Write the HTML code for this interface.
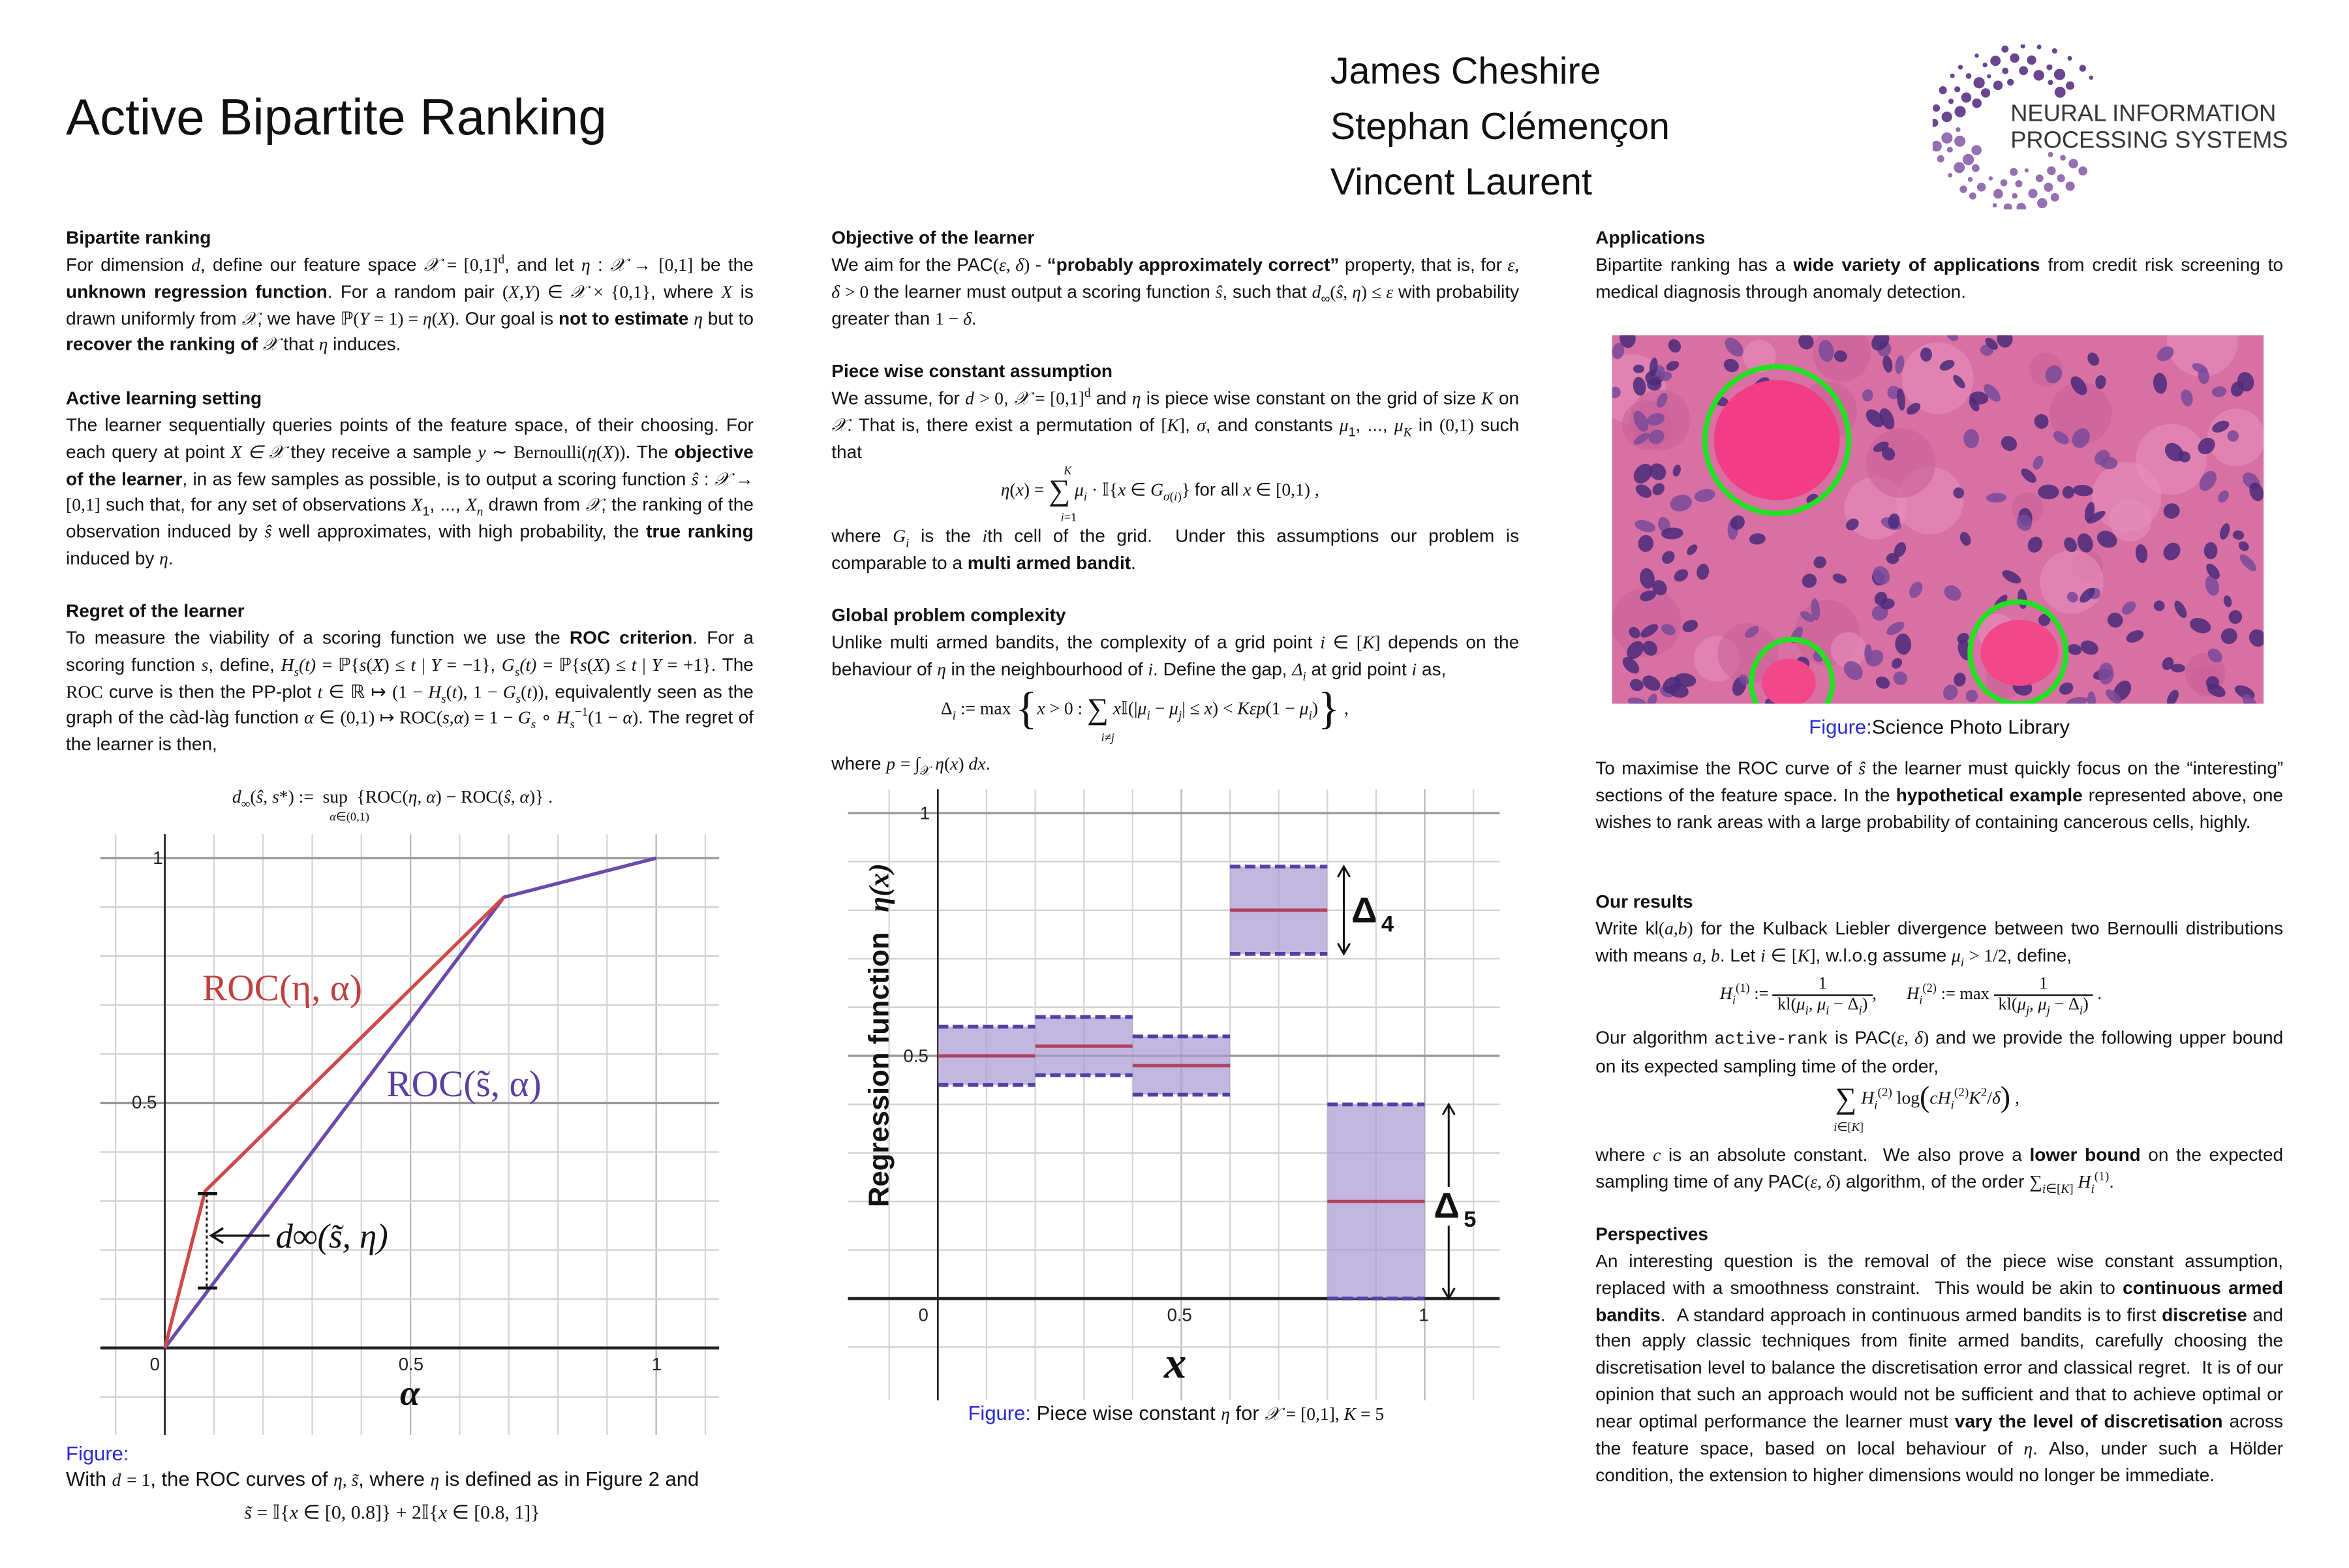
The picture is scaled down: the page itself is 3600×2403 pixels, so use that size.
<!DOCTYPE html>
<html><head><meta charset="utf-8">
<style>
html,body{margin:0;padding:0;background:#fff;}
body{width:3600px;height:2400px;overflow:hidden;position:relative;}
#root{position:absolute;left:0;top:4px;width:1552px;height:1045px;transform:scale(2.296);transform-origin:0 0;font-family:"Liberation Sans",sans-serif;color:#111;}
.a{position:absolute;}
.col{position:absolute;width:459px;font-size:12.2px;line-height:17.85px;text-align:justify;}
.h{font-weight:bold;}
.m{font-family:"Liberation Serif",serif;font-style:italic;font-size:12px;}
.r{font-family:"Liberation Serif",serif;font-size:12px;}
sub,sup{line-height:0;font-size:0.7em;}
.blue{color:#2a2ad0;}
</style></head><body>
<div id="root">
<div class="a" style="left:44px;top:58px;font-size:34px;">Active Bipartite Ranking</div>
<div class="a" style="left:888px;top:28px;font-size:25px;line-height:37px;">James Cheshire<br>Stephan Clémençon<br>Vincent Laurent</div>
<svg class="a" style="left:1290px;top:28px" width="110" height="110" id="logo"></svg>
<div class="a" style="left:1342px;top:66px;font-size:15.8px;line-height:17.5px;color:#33363a;">NEURAL INFORMATION<br>PROCESSING SYSTEMS</div>

<div class="col" style="left:44px;top:149px;">
<div class="h">Bipartite ranking</div>
For dimension <span class="m">d</span>, define our feature space <span class="m">𝒳</span> <span class="r">= [0,1]<sup>d</sup></span>, and let <span class="m">η</span> : <span class="m">𝒳</span> → <span class="r">[0,1]</span> be the <b>unknown regression function</b>. For a random pair <span class="r">(<i>X,Y</i>) ∈ <i>𝒳</i> × {0,1}</span>, where <span class="m">X</span> is drawn uniformly from <span class="m">𝒳</span>, we have <span class="r">ℙ(<i>Y</i> = 1) = <i>η</i>(<i>X</i>)</span>. Our goal is <b>not to estimate</b> <span class="m">η</span> but to <b>recover the ranking of</b> <span class="m">𝒳</span> that <span class="m">η</span> induces.
</div>
<div class="col" style="left:44px;top:256px;">
<div class="h">Active learning setting</div>
The learner sequentially queries points of the feature space, of their choosing. For each query at point <span class="m">X ∈ 𝒳</span> they receive a sample <span class="m">y</span> ∼ <span class="r">Bernoulli(<i>η</i>(<i>X</i>))</span>. The <b>objective of the learner</b>, in as few samples as possible, is to output a scoring function <span class="m">ŝ</span> : <span class="m">𝒳</span> → <span class="r">[0,1]</span> such that, for any set of observations <span class="m">X</span><sub>1</sub>, ..., <span class="m">X<sub>n</sub></span> drawn from <span class="m">𝒳</span>, the ranking of the observation induced by <span class="m">ŝ</span> well approximates, with high probability, the <b>true ranking</b> induced by <span class="m">η</span>.
</div>
<div class="col" style="left:44px;top:398px;">
<div class="h">Regret of the learner</div>
To measure the viability of a scoring function we use the <b>ROC criterion</b>. For a scoring function <span class="m">s</span>, define, <span class="m">H<sub>s</sub>(t)</span> <span class="r">= ℙ{<i>s</i>(<i>X</i>) ≤ <i>t</i> | <i>Y</i> = −1}</span>, <span class="m">G<sub>s</sub>(t)</span> <span class="r">= ℙ{<i>s</i>(<i>X</i>) ≤ <i>t</i> | <i>Y</i> = +1}</span>. The <span class="r">ROC</span> curve is then the PP-plot <span class="m">t</span> ∈ ℝ ↦ <span class="r">(1 − <i>H<sub>s</sub></i>(<i>t</i>), 1 − <i>G<sub>s</sub></i>(<i>t</i>))</span>, equivalently seen as the graph of the càd-làg function <span class="m">α</span> ∈ <span class="r">(0,1) ↦ ROC(<i>s,α</i>) = 1 − <i>G<sub>s</sub></i> ∘ <i>H<sub>s</sub></i><sup>−1</sup>(1 − <i>α</i>)</span>. The regret of the learner is then,
</div>
<div class="a r" style="left:155px;top:523px;font-size:12px;"><i>d</i><sub>∞</sub>(<i>ŝ, s</i>*) := &nbsp;sup&nbsp; {ROC(<i>η, α</i>) − ROC(<i>ŝ, α</i>)} .</div>
<div class="a r" style="left:220px;top:539px;font-size:8px;"><i>α</i>∈(0,1)</div>

<div class="col" style="left:555px;top:149px;">
<div class="h">Objective of the learner</div>
We aim for the PAC<span class="r">(<i>ε, δ</i>)</span> - <b>“probably approximately correct”</b> property, that is, for <span class="m">ε, δ</span> <span class="r">&gt; 0</span> the learner must output a scoring function <span class="m">ŝ</span>, such that <span class="m">d</span><sub>∞</sub><span class="r">(<i>ŝ, η</i>) ≤ <i>ε</i></span> with probability greater than <span class="r">1 − <i>δ</i></span>.
</div>
<div class="col" style="left:555px;top:238px;">
<div class="h">Piece wise constant assumption</div>
We assume, for <span class="m">d</span> <span class="r">&gt; 0</span>, <span class="m">𝒳</span> <span class="r">= [0,1]<sup>d</sup></span> and <span class="m">η</span> is piece wise constant on the grid of size <span class="m">K</span> on <span class="m">𝒳</span>. That is, there exist a permutation of <span class="r">[<i>K</i>]</span>, <span class="m">σ</span>, and constants <span class="m">μ</span><sub>1</sub>, ..., <span class="m">μ<sub>K</sub></span> in <span class="r">(0,1)</span> such that
</div>
<div class="a r" style="left:668px;top:318px;font-size:12px;"><i>η</i>(<i>x</i>) = <span style="font-size:20px;vertical-align:-3px;line-height:0">∑</span> <i>μ<sub>i</sub></i> · 𝕀{<i>x</i> ∈ <i>G</i><sub><i>σ</i>(<i>i</i>)</sub>} <span style="font-family:'Liberation Sans'">for all</span> <i>x</i> ∈ [0,1) ,</div>
<div class="a r" style="left:710px;top:308px;font-size:8px;"><i>K</i></div>
<div class="a r" style="left:708px;top:339px;font-size:8px;"><i>i</i>=1</div>
<div class="col" style="left:555px;top:348px;">
where <span class="m">G<sub>i</sub></span> is the <span class="m">i</span>th cell of the grid. &nbsp;Under this assumptions our problem is comparable to a <b>multi armed bandit</b>.
</div>
<div class="col" style="left:555px;top:401px;">
<div class="h">Global problem complexity</div>
Unlike multi armed bandits, the complexity of a grid point <span class="m">i</span> ∈ <span class="r">[<i>K</i>]</span> depends on the behaviour of <span class="m">η</span> in the neighbourhood of <span class="m">i</span>. Define the gap, <span class="m">Δ<sub>i</sub></span> at grid point <span class="m">i</span> as,
</div>
<div class="a r" style="left:628px;top:464px;font-size:12px;">Δ<sub><i>i</i></sub> := max <span style="font-size:30px;vertical-align:-6px;line-height:0">{</span><i>x</i> &gt; 0 : <span style="font-size:20px;vertical-align:-3px;line-height:0">∑</span> <i>x</i>𝕀(|<i>μ<sub>i</sub></i> − <i>μ<sub>j</sub></i>| ≤ <i>x</i>) &lt; <i>Kεp</i>(1 − <i>μ<sub>i</sub></i>)<span style="font-size:30px;vertical-align:-6px;line-height:0">}</span> ,</div>
<div class="a r" style="left:735px;top:486px;font-size:8px;"><i>i</i>≠<i>j</i></div>
<div class="a" style="left:555px;top:501px;font-size:12.2px;">where <span class="m">p</span> <span class="r">= ∫<sub>𝒳</sub> <i>η</i>(<i>x</i>) <i>dx</i></span>.</div>

<div class="col" style="left:1065px;top:149px;">
<div class="h">Applications</div>
Bipartite ranking has a <b>wide variety of applications</b> from credit risk screening to medical diagnosis through anomaly detection.
</div>
<svg class="a" style="left:1076px;top:222px" width="435" height="246" viewBox="0 0 435 246">
<rect width="435" height="246" fill="#d870a4"/>
<g id="cells"></g>
<ellipse cx="110" cy="70" rx="42" ry="40" fill="#f23d84"/>
<ellipse cx="272" cy="212" rx="26" ry="22" fill="#f04888"/>
<ellipse cx="118" cy="232" rx="18" ry="16" fill="#f04888"/>
<ellipse cx="110" cy="70" rx="48" ry="49" fill="none" stroke="#22e022" stroke-width="3.5"/>
<ellipse cx="271" cy="212" rx="32" ry="34" fill="none" stroke="#22e022" stroke-width="3.5"/>
<ellipse cx="120" cy="232" rx="27" ry="29" fill="none" stroke="#22e022" stroke-width="3.5"/>
</svg>
<div class="a" style="left:1065px;top:476px;width:459px;text-align:center;font-size:13.5px;"><span class="blue">Figure:</span>Science Photo Library</div>
<div class="col" style="left:1065px;top:503px;">
To maximise the ROC curve of <span class="m">ŝ</span> the learner must quickly focus on the “interesting” sections of the feature space. In the <b>hypothetical example</b> represented above, one wishes to rank areas with a large probability of containing cancerous cells, highly.
</div>
<div class="col" style="left:1065px;top:592px;">
<div class="h">Our results</div>
Write kl<span class="r">(<i>a,b</i>)</span> for the Kulback Liebler divergence between two Bernoulli distributions with means <span class="m">a, b</span>. Let <span class="m">i</span> ∈ <span class="r">[<i>K</i>]</span>, w.l.o.g assume <span class="m">μ<sub>i</sub></span> <span class="r">&gt; 1/2</span>, define,
</div>
<div class="a r" style="left:1148px;top:649px;font-size:11.5px;line-height:13px;">
<span style="display:inline-block;vertical-align:middle"><i>H<sub>i</sub></i><sup>(1)</sup> :=</span>
<span style="display:inline-block;vertical-align:middle;text-align:center"><span>1</span><br><span style="border-top:1px solid #111;display:inline-block;padding:0 3px">kl(<i>μ<sub>i</sub>, μ<sub>i</sub></i> − Δ<sub><i>i</i></sub>)</span></span>,
&nbsp;&nbsp;&nbsp;&nbsp;&nbsp;
<span style="display:inline-block;vertical-align:middle"><i>H<sub>i</sub></i><sup>(2)</sup> := max</span>
<span style="display:inline-block;vertical-align:middle;text-align:center"><span>1</span><br><span style="border-top:1px solid #111;display:inline-block;padding:0 3px">kl(<i>μ<sub>j</sub>, μ<sub>j</sub></i> − Δ<sub><i>i</i></sub>)</span></span> .
</div>
<div class="col" style="left:1065px;top:683px;">
Our algorithm <span style="font-family:'Liberation Mono',monospace;font-size:11.5px">active-rank</span> is PAC<span class="r">(<i>ε, δ</i>)</span> and we provide the following upper bound on its expected sampling time of the order,
</div>
<div class="a r" style="left:1225px;top:724px;font-size:12px;"><span style="font-size:20px;vertical-align:-3px;line-height:0">∑</span> <i>H<sub>i</sub></i><sup>(2)</sup> log<span style="font-size:20px;vertical-align:-2px;line-height:0">(</span><i>cH<sub>i</sub></i><sup>(2)</sup><i>K</i><sup>2</sup>/<i>δ</i><span style="font-size:20px;vertical-align:-2px;line-height:0">)</span> ,</div>
<div class="a r" style="left:1224px;top:746px;font-size:8px;"><i>i</i>∈[<i>K</i>]</div>
<div class="col" style="left:1065px;top:761px;">
where <span class="m">c</span> is an absolute constant. &nbsp;We also prove a <b>lower bound</b> on the expected sampling time of any PAC<span class="r">(<i>ε, δ</i>)</span> algorithm, of the order <span class="r">∑<sub><i>i</i>∈[<i>K</i>]</sub> <i>H<sub>i</sub></i><sup>(1)</sup></span>.
</div>
<div class="col" style="left:1065px;top:814px;">
<div class="h">Perspectives</div>
An interesting question is the removal of the piece wise constant assumption, replaced with a smoothness constraint. &nbsp;This would be akin to <b>continuous armed bandits</b>. &nbsp;A standard approach in continuous armed bandits is to first <b>discretise</b> and then apply classic techniques from finite armed bandits, carefully choosing the discretisation level to balance the discretisation error and classical regret. &nbsp;It is of our opinion that such an approach would not be sufficient and that to achieve optimal or near optimal performance the learner must <b>vary the level of discretisation</b> across the feature space, based on local behaviour of <span class="m">η</span>. Also, under such a Hölder condition, the extension to higher dimensions would no longer be immediate.
</div>

<svg class="a" style="left:0;top:0" width="1552" height="1045" id="ch" font-family="Liberation Sans, sans-serif"></svg>

<div class="a" style="left:44px;top:961px;font-size:13.5px;" ><span class="blue">Figure:</span></div>
<div class="a" style="left:44px;top:978px;font-size:13.5px;">With <span class="m">d</span> <span class="r">= 1</span>, the ROC curves of <span class="m">η, s̃</span>, where <span class="m">η</span> is defined as in Figure 2 and</div>
<div class="a r" style="left:163px;top:1000px;font-size:13px;"><i>s̃</i> = 𝕀{<i>x</i> ∈ [0, 0.8]} + 2𝕀{<i>x</i> ∈ [0.8, 1]}</div>
<div class="a" style="left:555px;top:934px;width:460px;text-align:center;font-size:13.5px;"><span class="blue">Figure:</span> Piece wise constant <span class="m">η</span> for <span class="m">𝒳</span> <span class="r">= [0,1], <i>K</i> = 5</span></div>
</div>
<script>
var NS="http://www.w3.org/2000/svg";
function el(p,t,a,txt){var e=document.createElementNS(NS,t);for(var k in a)e.setAttribute(k,a[k]);if(txt!==undefined)e.textContent=txt;p.appendChild(e);return e;}
var seed=3;function rnd(){seed=(seed*9301+49297)%233280;return seed/233280;}
var lg=document.getElementById('logo');
for(var ring=0;ring<4;ring++){var R=30+ring*8;var n=16+ring*3;
for(var i=0;i<n;i++){var deg=35+i*(290/(n-1))+(rnd()-0.5)*6;var ang=deg*Math.PI/180;
var cx=55+R*Math.cos(ang)+(ring==3&&deg<110?8:0),cy=55-R*Math.sin(ang);
if(ring==0&&rnd()<0.4)continue;
var col=deg<180?'#6a4590':'#9570b0';el(lg,'circle',{cx:cx,cy:cy,r:1.3+rnd()*2.6,fill:col});}}
var cg=document.getElementById('cells');
for(var i=0;i<30;i++){el(cg,'circle',{cx:rnd()*435,cy:rnd()*246,r:10+rnd()*18,fill:rnd()<0.5?'#e890bc':'#c9609a',opacity:0.6});}
for(var i=0;i<220;i++){var cx=rnd()*435,cy=rnd()*246;el(cg,'ellipse',{cx:cx,cy:cy,rx:3.5+rnd()*4,ry:2.5+rnd()*3,fill:rnd()<0.7?'#4a2a7a':'#7a4a9a',opacity:0.85,transform:'rotate('+(rnd()*180)+' '+cx+' '+cy+')'});}
var s=document.getElementById('ch');
function X1(u){return 110+328*u;} function Y1(v){return 898-327*v;}
for(var k=-1;k<=12;k++){var x=X1(k*0.1);if(x<67||x>482)continue;el(s,'line',{x1:x,y1:555,x2:x,y2:956,stroke:(k%5==0)?'#b8b8b8':'#d6d6d6','stroke-width':1});}
for(var k=-1;k<=10;k++){var y=Y1(k*0.1);el(s,'line',{x1:67,y1:y,x2:480,y2:y,stroke:(k%5==0)?'#999':'#d0d0d0','stroke-width':(k%5==0)?1.5:1});}
el(s,'line',{x1:67,y1:898,x2:480,y2:898,stroke:'#222','stroke-width':2});
el(s,'line',{x1:110,y1:555,x2:110,y2:956,stroke:'#222','stroke-width':1.2});
el(s,'polyline',{points:X1(0)+','+Y1(0)+' '+X1(0.69)+','+Y1(0.92)+' '+X1(1)+','+Y1(1),fill:'none',stroke:'#6a4aaa','stroke-width':2.3});
el(s,'polyline',{points:X1(0)+','+Y1(0)+' '+X1(0.082)+','+Y1(0.32)+' '+X1(0.69)+','+Y1(0.92),fill:'none',stroke:'#d04848','stroke-width':2.3});
el(s,'line',{x1:138,y1:795,x2:138,y2:858,stroke:'#111','stroke-width':1.3,'stroke-dasharray':'2,2'});
el(s,'line',{x1:132,y1:795,x2:145,y2:795,stroke:'#111','stroke-width':2});
el(s,'line',{x1:132,y1:858,x2:145,y2:858,stroke:'#111','stroke-width':2});
el(s,'line',{x1:180,y1:823,x2:142,y2:823,stroke:'#111','stroke-width':1.5});
el(s,'polyline',{points:'149,818 141,823 149,828',fill:'none',stroke:'#111','stroke-width':1.5});
function T(x,y,t,a){var o={x:x,y:y,'font-size':12,fill:'#222'};for(var k in a)o[k]=a[k];return el(s,'text',o,t);}
T(102,575,'1');T(88,738,'0.5');T(100,913,'0');T(266,913,'0.5');T(435,913,'1');
T(267,936,'α',{'font-size':24,'font-family':'Liberation Serif, serif','font-style':'italic','font-weight':'bold',fill:'#111'});
T(135,666,'ROC(η, α)',{'font-size':25,'font-family':'Liberation Serif, serif',fill:'#c04040'});
T(258,730,'ROC(s̃, α)',{'font-size':25,'font-family':'Liberation Serif, serif',fill:'#5a40a0'});
T(184,831,'d∞(s̃, η)',{'font-size':23,'font-family':'Liberation Serif, serif','font-style':'italic',fill:'#111'});
function X2(u){return 626+325*u;} function Y2(v){return 865-324*v;}
for(var k=-1;k<=11;k++){var x=X2(k*0.1);if(x<566||x>1002)continue;el(s,'line',{x1:x,y1:525,x2:x,y2:933,stroke:(k%5==0)?'#b8b8b8':'#d6d6d6','stroke-width':1});}
for(var k=-1;k<=10;k++){var y=Y2(k*0.1);el(s,'line',{x1:566,y1:y,x2:1001,y2:y,stroke:(k%5==0)?'#999':'#d0d0d0','stroke-width':(k%5==0)?1.5:1});}
el(s,'line',{x1:566,y1:865,x2:1001,y2:865,stroke:'#222','stroke-width':2});
el(s,'line',{x1:626,y1:525,x2:626,y2:933,stroke:'#222','stroke-width':1.2});
var B=[[0,.44,.56,.50],[.2,.46,.58,.52],[.4,.42,.54,.48],[.6,.71,.89,.80],[.8,0,.40,.20]];
B.forEach(function(b){var x0=X2(b[0]),x1=X2(b[0]+0.2);
el(s,'rect',{x:x0,y:Y2(b[2]),width:x1-x0,height:Y2(b[1])-Y2(b[2]),fill:'#a898d0','fill-opacity':0.7});
el(s,'line',{x1:x0,y1:Y2(b[2]),x2:x1,y2:Y2(b[2]),stroke:'#5040a8','stroke-width':2.5,'stroke-dasharray':'7,3'});
el(s,'line',{x1:x0,y1:Y2(b[1]),x2:x1,y2:Y2(b[1]),stroke:'#5040a8','stroke-width':2.5,'stroke-dasharray':'7,3'});
el(s,'line',{x1:x0,y1:Y2(b[3]),x2:x1,y2:Y2(b[3]),stroke:'#b04060','stroke-width':2.2});});
function arrow(x,ya,yb){el(s,'line',{x1:x,y1:ya,x2:x,y2:yb,stroke:'#111','stroke-width':1.3});}
arrow(897,Y2(.89),Y2(.71));
el(s,'polyline',{points:'893,'+(Y2(.89)+7)+' 897,'+Y2(.89)+' 901,'+(Y2(.89)+7),fill:'none',stroke:'#111','stroke-width':1.3});
el(s,'polyline',{points:'893,'+(Y2(.71)-7)+' 897,'+Y2(.71)+' 901,'+(Y2(.71)-7),fill:'none',stroke:'#111','stroke-width':1.3});
arrow(967,Y2(.40),Y2(.23));arrow(967,Y2(.15),Y2(0));
el(s,'polyline',{points:'963,'+(Y2(.40)+7)+' 967,'+Y2(.40)+' 971,'+(Y2(.40)+7),fill:'none',stroke:'#111','stroke-width':1.3});
el(s,'polyline',{points:'963,'+(Y2(0)-7)+' 967,'+Y2(0)+' 971,'+(Y2(0)-7),fill:'none',stroke:'#111','stroke-width':1.3});
T(902,614,'Δ',{'font-size':24,'font-weight':'bold',fill:'#111'});T(922,620,'4',{'font-size':15,'font-weight':'bold',fill:'#111'});
T(957,811,'Δ',{'font-size':24,'font-weight':'bold',fill:'#111'});T(977,817,'5',{'font-size':15,'font-weight':'bold',fill:'#111'});
T(614,545,'1');T(603,707,'0.5');T(613,880,'0');T(779,880,'0.5');T(947,880,'1');
T(777,918,'x',{'font-size':30,'font-family':'Liberation Serif, serif','font-style':'italic','font-weight':'bold',fill:'#111'});
var yl=T(0,0,'',{'font-size':19,'font-weight':'bold',fill:'#111',transform:'translate(593,804) rotate(-90)'});
yl.innerHTML='Regression function <tspan font-family="Liberation Serif, serif" font-style="italic" dx="8">η(x)</tspan>';
</script>
</body></html>
